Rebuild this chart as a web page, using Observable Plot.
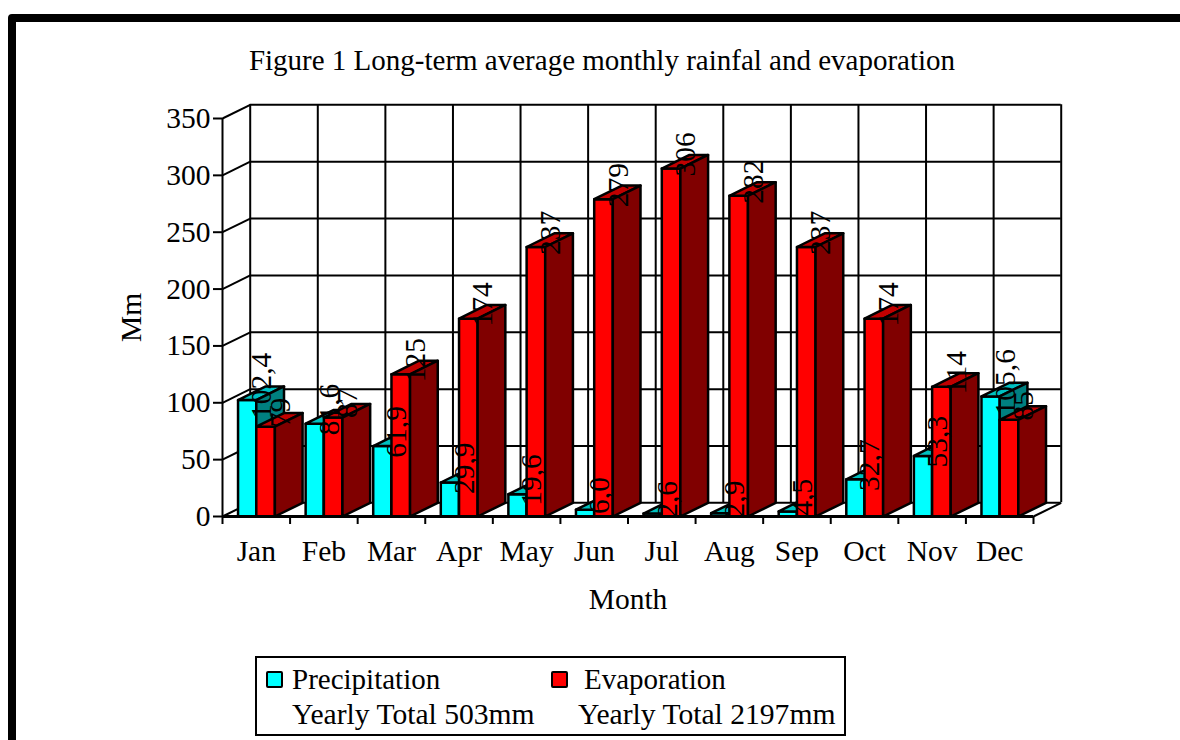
<!DOCTYPE html>
<html>
<head>
<meta charset="utf-8">
<script src="https://cdn.jsdelivr.net/npm/d3@7"></script>
<script src="https://cdn.jsdelivr.net/npm/@observablehq/plot@0.6"></script>
<style>
  html, body { margin: 0; padding: 0; background: #fff; overflow: hidden; width: 1180px; height: 740px; }
  body { position: relative; font-family: "Liberation Serif", serif; color: #000; }
  #frame { position: absolute; left: 8px; top: 14px; width: 1400px; height: 1000px; border: 8px solid #000; border-radius: 4px; box-sizing: border-box; }
  #title { position: relative; height: 90px; width: 1204px; text-align: center; font-size: 29px; line-height: 28px; padding-top: 46px; box-sizing: border-box; white-space: nowrap; }
  #chart { position: relative; height: 540px; }
  #chart svg { display: block; }
  #legend { position: absolute; left: 255px; top: 656px; width: 591px; height: 80px; box-sizing: border-box; border: 2px solid #000; background: #fff; font-size: 29px; line-height: 34px; }
  #legend span { position: absolute; white-space: nowrap; }
  #legend .total { font-size: 29.6px; }
  #legend i { position: absolute; width: 17px; height: 17px; border: 2px solid #000; border-radius: 2px; box-sizing: border-box; }
</style>
</head>
<body>
<div id="frame"></div>
<div id="title">Figure 1 Long-term average monthly rainfal and evaporation</div>
<div id="chart"></div>
<div id="legend">
  <i style="left:9px;top:13px;background:#00ffff"></i><span style="left:35px;top:4px">Precipitation</span>
  <i style="left:294px;top:13px;background:#ff0000"></i><span style="left:327px;top:4px">Evaporation</span>
  <span class="total" style="left:35px;top:39px">Yearly Total 503mm</span>
  <span class="total" style="left:321px;top:39px">Yearly Total 2197mm</span>
</div>
<script>
const months = ["Jan","Feb","Mar","Apr","May","Jun","Jul","Aug","Sep","Oct","Nov","Dec"];
const precipitation = [102.4,81.6,61.9,29.9,19.6,6.0,2.6,2.9,4.5,32.7,53.3,105.6];
const evaporation = [79,87,125,174,237,279,306,282,237,174,114,85];
const yTicks = [0,50,100,150,200,250,300,350];

// Oblique depth of the 3D box, in scale units (months, mm)
const depthX = 0.41, depthY = 12;
const barEdges = {left: 0.23, mid: 0.5, right: 0.775};
const labelLift = 12.5;
const monthSlots = d3.range(months.length + 1);

const series = [
  {name: "Precipitation", values: precipitation, from: barEdges.left, to: barEdges.mid, front: "#00ffff", top: "#00c0c0", side: "#008080", format: v => d3.format(".1f")(v).replace(".", ",")},
  {name: "Evaporation", values: evaporation, from: barEdges.mid, to: barEdges.right, front: "#ff0000", top: "#c00000", side: "#800000", format: v => String(v)}
];

const faces = [];
const labels = [];
months.forEach((m, i) => {
  series.forEach(s => {
    const x0 = i + s.from, x1 = i + s.to, v = s.values[i];
    const add = (face, fill, pts) => pts.forEach(([x, y]) => faces.push({id: `${m}-${s.name}-${face}`, x, y, fill}));
    add("front", s.front, [[x0,0],[x1,0],[x1,v],[x0,v],[x0,0]]);
    add("top", s.top, [[x0,v],[x1,v],[x1+depthX,v+depthY],[x0+depthX,v+depthY],[x0,v]]);
    add("side", s.side, [[x1,0],[x1+depthX,depthY],[x1+depthX,v+depthY],[x1,v],[x1,0]]);
    labels.push({x: x1 + 0.08, y: v + labelLift, text: s.format(v)});
  });
});

const ink = {stroke: "#000", strokeWidth: 2};

const plot = Plot.plot({
  width: 1180,
  height: 540,
  marginTop: 28,
  marginBottom: 114,
  marginLeft: 222,
  marginRight: 147,
  style: {fontFamily: "'Liberation Serif', serif", fontSize: "29px", color: "#000", background: "transparent", overflow: "visible"},
  x: {type: "linear", domain: [0, months.length], label: null},
  y: {domain: [0, 350], label: null},
  color: {type: "identity"},
  marks: [
    // back wall grid
    Plot.ruleY(yTicks, {y: d => d + depthY, x1: () => depthX, x2: () => months.length + depthX, ...ink}),
    Plot.ruleX(monthSlots, {x: d => d + depthX, y1: () => depthY, y2: () => 350 + depthY, ...ink}),
    // left wall and floor edges
    Plot.link(yTicks, {x1: () => 0, y1: d => d, x2: () => depthX, y2: d => d + depthY, ...ink}),
    Plot.link([0], {x1: () => months.length, y1: d => d, x2: () => months.length + depthX, y2: d => d + depthY, ...ink}),
    Plot.ruleX([0], {y1: () => 0, y2: () => 350, ...ink}),
    // bars
    Plot.line(faces, {x: "x", y: "y", z: "id", fill: "fill", stroke: "#000", strokeWidth: 2.5, strokeLinejoin: "round", curve: "linear"}),
    Plot.ruleY([0], {x1: () => 0, x2: () => months.length, stroke: "#000", strokeWidth: 3}),
    // axes
    Plot.axisY({ticks: yTicks, tickSize: 9, tickPadding: 3, fontSize: 29.5, strokeWidth: 2, label: "Mm", labelAnchor: "center", labelOffset: 102, labelArrow: "none"}),
    Plot.axisX({ticks: monthSlots, tickSize: 8, tickFormat: () => "", strokeWidth: 2, label: null}),
    Plot.axisX({ticks: months.map((_, i) => i + 0.5), tickSize: 0, tickPadding: 24, fontSize: 29.5, tickFormat: d => months[Math.floor(d)], label: "Month", labelAnchor: "center", labelOffset: 92, labelArrow: "none"}),
    // value labels
    Plot.text(labels, {x: "x", y: "y", text: "text", rotate: -90, fontSize: 29.5, fill: "#000", textAnchor: "middle", lineAnchor: "middle"})
  ]
});
document.getElementById("chart").appendChild(plot);
</script>
</body>
</html>
